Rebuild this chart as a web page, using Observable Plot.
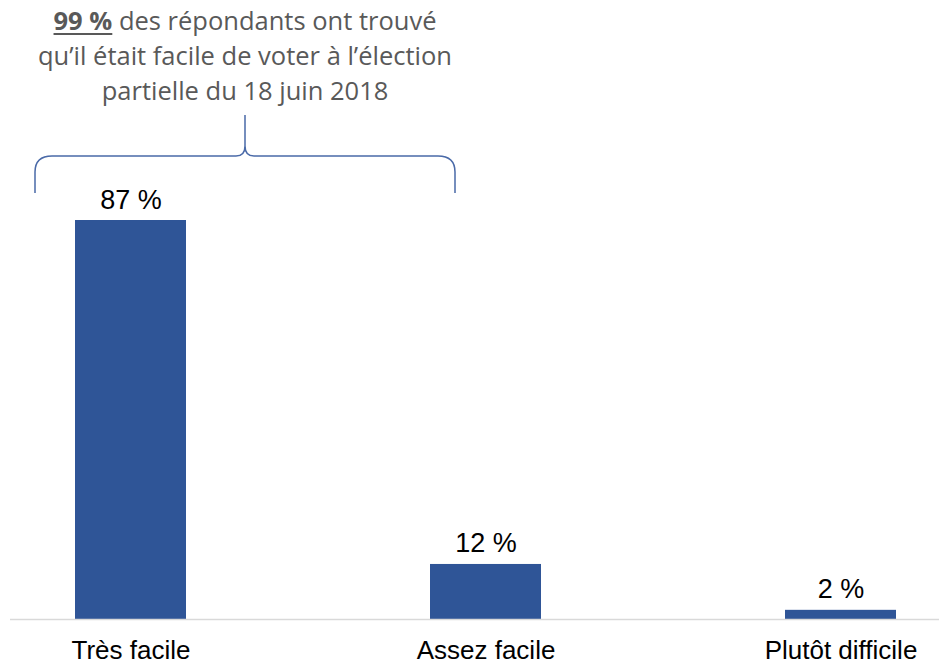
<!DOCTYPE html>
<html>
<head>
<meta charset="utf-8">
<script src="https://cdn.jsdelivr.net/npm/d3@7"></script>
<script src="https://cdn.jsdelivr.net/npm/@observablehq/plot@0.6"></script>
<style>
  html, body { margin: 0; padding: 0; background: #fff; }
  #wrap { position: relative; width: 939px; height: 665px; overflow: hidden; }
  #title { position: absolute; left: 5px; top: 3px; width: 480px; text-align: center;
    font-family: "Open Sans", Roboto, sans-serif; font-size: 25.5px; line-height: 35px; color: #595959; }
  #title b { font-weight: 700; text-decoration: underline; text-underline-offset: 3px; }
  #brace { position: absolute; left: 0; top: 0; }
</style>
</head>
<body>
<div id="wrap">
  <div id="chart"></div>
  <div id="title"><b>99 %</b> des répondants ont trouvé<br>qu’il était facile de voter à l’élection<br>partielle du 18 juin 2018</div>
  <svg id="brace" width="939" height="665"><path d="M35,193 L35,172 Q35,156 52,156 L236,156 Q245,156 245,146 L245,115 M245,146 Q245,156 254,156 L438,156 Q455,156 455,172 L455,193" fill="none" stroke="#4a6aa8" stroke-width="1.5"/></svg>
</div>
<script>
const categories = ["Très facile", "Assez facile", "Plutôt difficile"];
const values = [87, 12, 2];
const data = categories.map((c, i) => ({category: c, value: values[i]}));

const chart = Plot.plot({
  width: 939,
  height: 665,
  marginLeft: 32,
  marginRight: 0,
  marginTop: 220,
  marginBottom: 46,
  style: {fontFamily: "'Liberation Sans', Arial, sans-serif", background: "#fff", overflow: "visible"},
  x: {domain: categories, paddingInner: 0.688, paddingOuter: 0.12, label: null},
  y: {domain: [0, d3.max(values)], axis: null},
  marks: [
    Plot.barY(data, {x: "category", y: "value", fill: "#2f5597"}),
    Plot.ruleY([0], {stroke: "#d9d9d9", strokeWidth: 1.5, insetLeft: -22}),
    Plot.text(data, {x: "category", y: "value", text: d => `${d.value} %`, dy: -12, lineAnchor: "bottom", fontSize: 27, fill: "#000"}),
    Plot.axisX({tickSize: 0, tickPadding: 21, fontSize: 26, fill: "#000", label: null})
  ]
});
document.getElementById("chart").appendChild(chart);
</script>
</body>
</html>
